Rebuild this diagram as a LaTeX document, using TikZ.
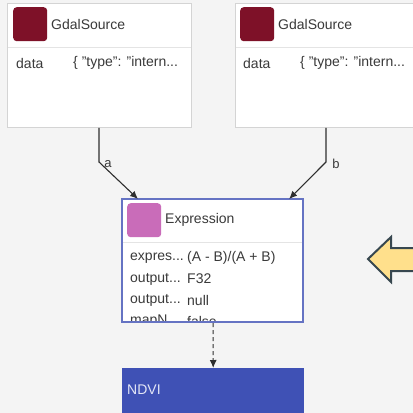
\documentclass[tikz,border=0pt]{standalone}
\usepackage{fontspec}
\setmainfont{Liberation Sans}
\usetikzlibrary{arrows.meta,calc}
\definecolor{canvas}{HTML}{F4F4F4}
\definecolor{txt}{HTML}{3A3A3A}
\definecolor{cardline}{HTML}{D4D4D4}
\definecolor{sepline}{HTML}{E4E4E4}
\definecolor{gdal}{HTML}{7E1128}
\definecolor{exprc}{HTML}{C96CB9}
\definecolor{exprline}{HTML}{6573C3}
\definecolor{ndvi}{HTML}{3F51B5}
\definecolor{ndvitxt}{HTML}{E3E6F6}
\definecolor{wire}{HTML}{2E2E2E}
\definecolor{hintfill}{HTML}{FFE08C}
\definecolor{hintline}{HTML}{37474F}
\tikzset{
  card/.style={draw=cardline, line width=0.9pt, fill=white, anchor=north west, inner sep=0pt},
  icon/.style={anchor=north west, rounded corners=3.5pt, inner sep=0pt, minimum width=34pt, minimum height=34pt},
  ttl/.style={anchor=west, font=\fontsize{14}{16}\selectfont, text=txt, inner sep=0pt},
  fld/.style={anchor=west, font=\fontsize{14}{16}\selectfont, text=txt, inner sep=0pt},
  wirestyle/.style={draw=wire, line width=1.1pt, -{Latex[length=8pt,width=7pt]}},
  edgelbl/.style={font=\fontsize{13}{15}\selectfont, text=txt, inner sep=0pt}
}
\begin{document}
\begin{tikzpicture}[x=1pt,y=-1pt]
  \fill[canvas] (0,0) rectangle (413,413);
  \useasboundingbox (0,0) rectangle (413,413);
  \clip (0,0) rectangle (413,413);

  % left source card
  \node[card, minimum width=184pt, minimum height=124pt] (srcA) at (7,3) {};
  \draw[sepline, line width=0.8pt] (7.5,47) -- (190.5,47);
  \node[icon, fill=gdal] (iconA) at (13,7) {};
  \node[ttl] (titleA) at (51,24) {GdalSource};
  \node[fld] (keyA) at (16,63) {data};
  \node[fld] (valA) at (73,63) {\{ "type": "intern...};

  % right source card
  \node[card, minimum width=190pt, minimum height=124pt] (srcB) at (235,3) {};
  \draw[sepline, line width=0.8pt] (235.5,47) -- (420,47);
  \node[icon, fill=gdal] (iconB) at (240,7) {};
  \node[ttl] (titleB) at (278,24) {GdalSource};
  \node[fld] (keyB) at (243,63) {data};
  \node[fld] (valB) at (300,63) {\{ "type": "intern...};

  % expression card
  \node[card, draw=exprline, line width=1.1pt, minimum width=181pt, minimum height=123pt] (expr) at (122,199) {};
  \begin{scope}
    \clip (122.5,199.5) rectangle (302.5,321.5);
    \draw[sepline, line width=0.8pt] (122.5,242) -- (302.5,242);
    \node[icon, fill=exprc] (iconE) at (127,203) {};
    \node[ttl] (titleE) at (165,220) {Expression};
    \node[fld] (k1) at (130,258) {expres...};
    \node[fld] (v1) at (187,258) {(A - B)/(A + B)};
    \node[fld] (k2) at (130,279) {output...};
    \node[fld] (v2) at (187,279) {F32};
    \node[fld] (k3) at (130,300) {output...};
    \node[fld] (v3) at (187,300) {null};
    \node[fld] (k4) at (130,321) {mapN...};
    \node[fld] (v4) at (187,321) {false};
  \end{scope}
  \draw[exprline, line width=1.1pt] (122,199) rectangle (303,322);

  % output node
  \node[anchor=north west, fill=ndvi, inner sep=0pt, minimum width=182pt, minimum height=60pt] (ndvi) at (122,368) {};
  \node[anchor=west, font=\fontsize{14}{16}\selectfont, text=ndvitxt, inner sep=0pt] (ndvilbl) at (127,390) {NDVI};

  % connectors
  \coordinate (bendA) at (99,162);
  \coordinate (bendB) at (326,162);
  \draw[wirestyle] ($(srcA.south west)+(92,0)$) -- (bendA) -- ($(expr.north west)+(16,0)$);
  \draw[wirestyle] ($(srcB.south west)+(91,0)$) -- (bendB) -- ($(expr.north east)+(-15,0)$);
  \node[edgelbl] (lblA) at (108,164) {a};
  \node[edgelbl] (lblB) at (336,164) {b};
  \draw[wirestyle, dash pattern=on 4pt off 3pt] (expr.south) -- (ndvi.north);

  % hint arrow at the right edge
  \filldraw[fill=hintfill, draw=hintline, line width=2pt, line join=miter]
    (368,259) -- (391,237) -- (391,248) -- (420,248) -- (420,271) -- (391,271) -- (391,282) -- cycle;
\end{tikzpicture}
\end{document}
